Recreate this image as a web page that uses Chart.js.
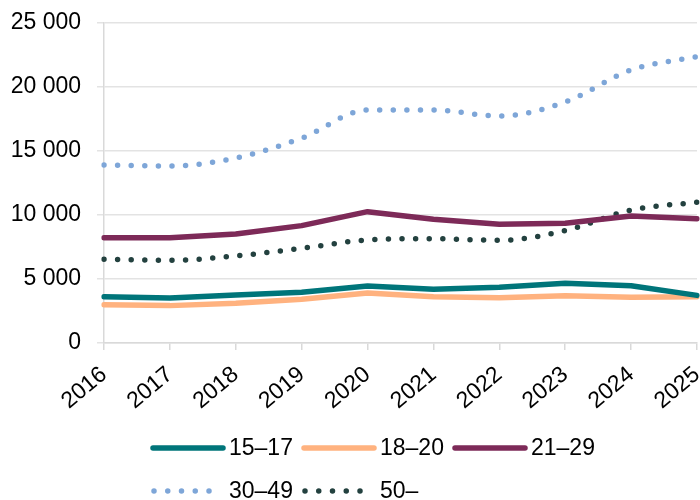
<!DOCTYPE html>
<html>
<head>
<meta charset="utf-8">
<script src="https://cdn.jsdelivr.net/npm/chart.js@4/dist/chart.umd.min.js"></script>
<style>
html,body{margin:0;padding:0;background:#fff;}
#wrap{width:700px;height:500px;position:relative;}
</style>
</head>
<body>
<div id="wrap"><canvas id="c" width="700" height="500"></canvas></div>
<script>
const years = ['2016','2017','2018','2019','2020','2021','2022','2023','2024','2025'];
const seriesLabels = ['15–17','18–20','21–29','30–49','50–'];
const age15_17 = [3620, 3520, 3750, 3960, 4450, 4190, 4350, 4660, 4480, 3720];
const age18_20 = [2990, 2920, 3100, 3410, 3900, 3620, 3540, 3700, 3570, 3620];
const age21_29 = [8230, 8230, 8520, 9170, 10260, 9660, 9270, 9350, 9920, 9710];
const age30_49 = [13900, 13830, 14450, 16000, 18200, 18200, 17730, 18830, 21330, 22370];
const age50_   = [6540, 6460, 6800, 7400, 8050, 8150, 8020, 8780, 10390, 10990];
const yTickValues = [0, 5000, 10000, 15000, 20000, 25000];

const FONT = "'Liberation Sans', Arial, sans-serif";
const colors = ['#00757A', '#FFB27F', '#7D2A58', '#7EA6D8', '#23413F'];
const dotted = [false, false, false, true, true];
const values = [age15_17, age18_20, age21_29, age30_49, age50_];

function fmt(v){ return String(v).replace(/\B(?=(\d{3})+(?!\d))/g, ' '); }

const datasets = values.map((d, i) => ({
  label: seriesLabels[i],
  data: d,
  borderColor: colors[i],
  backgroundColor: colors[i],
  borderWidth: 5.5,
  borderDash: dotted[i] ? [0, 13.6] : [],
  borderCapStyle: 'round',
  borderJoinStyle: 'round',
  cubicInterpolationMode: dotted[i] ? 'monotone' : 'default',
  tension: dotted[i] ? 0.4 : 0,
  pointRadius: 0,
  fill: false
}));

const legendPlugin = {
  id: 'customLegend',
  afterDraw(chart) {
    const ctx = chart.ctx;
    ctx.save();
    ctx.font = '23px ' + FONT;
    ctx.textBaseline = 'middle';
    ctx.fillStyle = '#000';
    chart.data.datasets.forEach((ds, i) => {
      const col = i % 3, row = Math.floor(i / 3);
      const x0 = 152 + 151 * col;
      const y = 448 + 43 * row;
      ctx.beginPath();
      ctx.strokeStyle = ds.borderColor;
      ctx.lineWidth = 5.5;
      ctx.lineCap = 'round';
      if (ds.borderDash.length) {
        ctx.setLineDash([0, 13.75]);
        ctx.moveTo(x0 + 2, y);
        ctx.lineTo(x0 + 60, y);
      } else {
        ctx.setLineDash([]);
        ctx.moveTo(x0 + 1, y);
        ctx.lineTo(x0 + 71, y);
      }
      ctx.stroke();
      ctx.setLineDash([]);
      ctx.fillText(ds.label, x0 + 77, y + 1);
    });
    ctx.restore();
  }
};

new Chart(document.getElementById('c'), {
  type: 'line',
  data: { labels: years, datasets },
  options: {
    responsive: false,
    animation: false,
    devicePixelRatio: 1,
    layout: { padding: { top: 23, right: 3, left: 0, bottom: 0 } },
    plugins: { legend: { display: false }, tooltip: { enabled: false } },
    scales: {
      x: {
        offset: false,
        grid: { drawOnChartArea: false, drawTicks: true, tickLength: 7, color: '#d9d9d9', lineWidth: 1.5 },
        border: { color: '#d9d9d9', width: 1.5 },
        ticks: { color: '#000', font: { family: FONT, size: 23 }, maxRotation: 40, minRotation: 40, padding: 11, autoSkip: false },
        afterFit(scale) { scale.height = 157; scale.paddingLeft = 0; scale.paddingRight = 0; }
      },
      y: {
        min: 0, max: 25000,
        afterBuildTicks(scale) { scale.ticks = yTickValues.map(v => ({ value: v })); },
        grid: { color: '#e3e3e3', lineWidth: 1.5, tickLength: 7, drawTicks: true },
        border: { color: '#d9d9d9', width: 1.5 },
        ticks: { color: '#000', font: { family: FONT, size: 23 }, padding: 16, callback: v => fmt(v) },
        afterFit(scale) { scale.width = 104; scale.paddingTop = 0; scale.paddingBottom = 0; }
      }
    }
  },
  plugins: [legendPlugin]
});
</script>
</body>
</html>
